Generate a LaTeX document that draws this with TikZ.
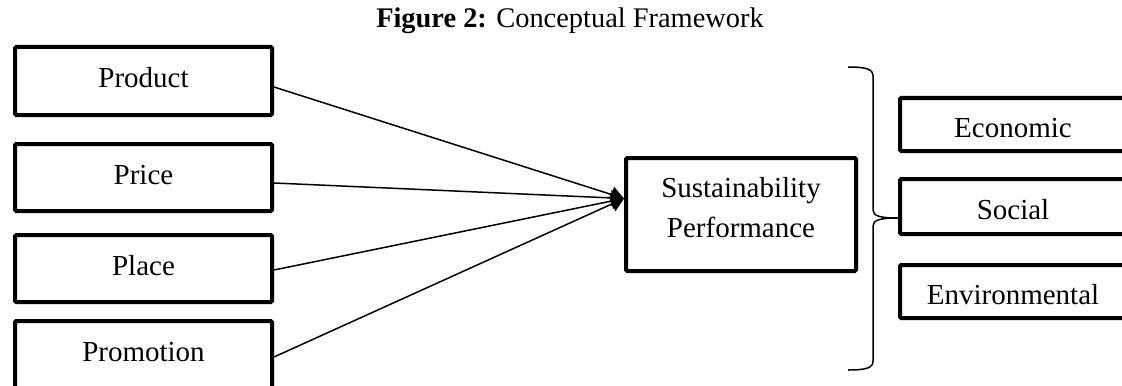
\documentclass[tikz,border=0pt]{standalone}
\usepackage{fontspec}
\setmainfont{Liberation Serif}
\usetikzlibrary{arrows.meta,calc}
\begin{document}
\begin{tikzpicture}[x=0.5pt,y=-0.5pt,
  box/.style={draw, line width=2pt, rounded corners=0.6pt, inner sep=0pt},
  lbl/.style={inner sep=0pt, align=center, font=\fontsize{14.5}{20}\selectfont},
  conn/.style={line width=0.75pt, -{Triangle[length=6.5pt,width=8pt]}},
  brace/.style={line width=0.75pt}]
\useasboundingbox (0,0) rectangle (1122,385);
\node[font=\fontsize{14.2}{18}\selectfont] (title) at (570,21) {\textbf{Figure 2:} Conceptual Framework};
\node[box, minimum width=128.5pt, minimum height=34pt] (prod) at (143.5,81) {};
\node[box, minimum width=128.5pt, minimum height=33.5pt] (price) at (143.5,177.5) {};
\node[box, minimum width=128.5pt, minimum height=33.5pt] (place) at (143.5,268.5) {};
\node[box, minimum width=128.5pt, minimum height=33.5pt] (promo) at (143.5,354.5) {};
\node[box, minimum width=115pt, minimum height=56.5pt] (sp) at (741,214.5) {};
\node[box, minimum width=113pt, minimum height=26.5pt] (eco) at (1013,124.5) {};
\node[box, minimum width=113pt, minimum height=27.5pt] (soc) at (1013,206.5) {};
\node[box, minimum width=113pt, minimum height=26.5pt] (env) at (1013,291.5) {};
\node[lbl] (prodt) at ($(prod)+(0,-3)$) {Product};
\node[lbl] (pricet) at ($(price)+(0,-2.5)$) {Price};
\node[lbl] (placet) at ($(place)+(0,-2.5)$) {Place};
\node[lbl] (promot) at ($(promo)+(0,-2.5)$) {Promotion};
\node[lbl] (spt) at ($(sp)+(0,-7)$) {Sustainability\\Performance};
\node[lbl] (ecot) at ($(eco)+(0,3.5)$) {Economic};
\node[lbl] (soct) at ($(soc)+(0,3.5)$) {Social};
\node[lbl] (envt) at ($(env)+(0,3)$) {Environmental};
\coordinate (tip) at ($(sp.west)+(0,-16)$);
\draw[conn] ($(prod.east)+(0,6)$) -- (tip);
\draw[conn] ($(price.east)+(0,5.5)$) -- (tip);
\draw[conn] ($(place.east)+(0,1.5)$) -- (tip);
\draw[conn] ($(promo.east)+(0,2.5)$) -- (tip);
\coordinate (btip) at ($(soc.west)+(0,11.5)$);
\draw[brace] (848,67) .. controls (866,67) and (873,69) .. (873,76)
  -- (873,210) .. controls (873,216) and (880,218) .. (btip)
  .. controls (880,218) and (873,220) .. (873,226)
  -- (873,361) .. controls (873,368) and (866,370) .. (848,370);
\end{tikzpicture}
\end{document}
